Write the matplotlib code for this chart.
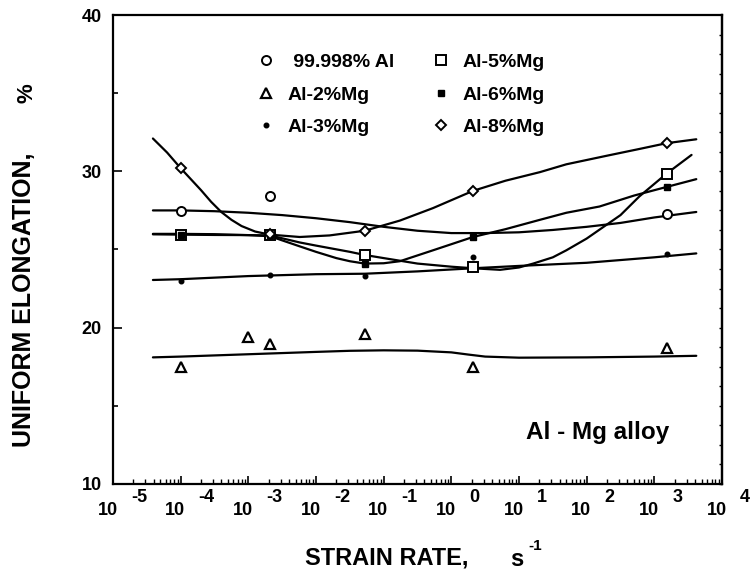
import matplotlib
matplotlib.use("Agg")
import matplotlib.pyplot as plt
import numpy as np
from matplotlib.ticker import FixedLocator, LogLocator, NullFormatter

plt.rcParams['font.family'] = ['Liberation Sans', 'DejaVu Sans']
plt.rcParams['font.weight'] = 'bold'

# measured strain rates (log10 of s^-1)
rate_main = [-4.0, -2.68, -1.28, 0.32, 3.18]
rate_al = [-4.0, -2.68, 3.18]
rate_2mg = [-4.0, -3.0, -2.68, -1.28, 0.32, 3.18]

# measured uniform elongation (%)
elong_al = [27.47, 28.45, 27.27]
elong_2mg = [17.5, 19.42, 18.96, 19.58, 17.5, 18.68]
elong_3mg = [23.0, 23.4, 23.3, 24.5, 24.7]
elong_5mg = [25.93, 25.93, 24.65, 23.86, 29.82]
elong_6mg = [25.9, 25.9, 24.1, 25.8, 29.0]
elong_8mg = [30.2, 26.0, 26.2, 28.75, 31.84]

# hand-drawn trend curves (log10 rate, %)
curve_al_x = [-4.41, -4, -3.5, -3, -2.5, -2, -1.5, -1, -0.5, 0, 0.5, 1, 1.5, 2, 2.5, 3, 3.62]
curve_al_y = [27.5, 27.5, 27.45, 27.35, 27.2, 27.0, 26.75, 26.45, 26.2, 26.05, 26.05, 26.1, 26.25,
              26.45, 26.7, 27.05, 27.4]
curve_2mg_x = [-4.41, -4, -3, -2, -1.5, -1, -0.5, 0, 0.25, 0.5, 1, 2, 3, 3.62]
curve_2mg_y = [18.1, 18.15, 18.3, 18.45, 18.52, 18.55, 18.53, 18.42, 18.28, 18.15, 18.08, 18.1,
               18.15, 18.2]
curve_3mg_x = [-4.41, -4, -3, -2, -1.28, -0.5, 0.32, 1, 2, 3, 3.62]
curve_3mg_y = [23.05, 23.1, 23.3, 23.42, 23.45, 23.6, 23.8, 23.95, 24.15, 24.5, 24.75]
curve_5mg_x = [-4.41, -4, -3.5, -3, -2.68, -2.24, -2, -1.5, -1.28, -1, -0.5, 0, 0.32, 0.72, 1.0,
               1.21, 1.5, 1.7, 2.0, 2.29, 2.5, 2.78, 3.18, 3.55]
curve_5mg_y = [25.97, 25.95, 25.93, 25.92, 25.9, 25.45, 25.25, 24.85, 24.65, 24.45, 24.1, 23.9,
               23.8, 23.7, 23.85, 24.1, 24.5, 24.95, 25.7, 26.57, 27.2, 28.4, 29.85, 31.05]
curve_6mg_x = [-4.41, -4, -3.5, -3, -2.68, -2.24, -2, -1.7, -1.5, -1.28, -1, -0.76, -0.27, 0.32,
               0.8, 1.31, 1.7, 2.19, 2.7, 3.18, 3.62]
curve_6mg_y = [26.0, 26.0, 25.98, 25.92, 25.85, 25.2, 24.85, 24.45, 24.25, 24.1, 24.12, 24.25,
               24.95, 25.8, 26.3, 26.9, 27.35, 27.75, 28.45, 29.0, 29.5]
curve_8mg_x = [-4.41, -4.2, -4, -3.85, -3.7, -3.55, -3.4, -3.25, -3.1, -2.9, -2.68, -2.24, -1.8,
               -1.28, -0.76, -0.27, 0.32, 0.8, 1.31, 1.7, 2.3, 2.8, 3.18, 3.62]
curve_8mg_y = [32.1, 31.2, 30.2, 29.5, 28.8, 28.05, 27.4, 26.9, 26.5, 26.15, 25.95, 25.8, 25.9,
               26.2, 26.85, 27.65, 28.75, 29.4, 29.95, 30.45, 31.0, 31.45, 31.8, 32.05]

decades = list(range(-5, 5))
y_major = [10, 20, 30, 40]
y_minor = [15, 25, 35]


def rate(exps):
    return [10.0 ** e for e in exps]


fig = plt.figure(figsize=(7.52, 5.81), dpi=100)
ax = fig.add_axes([113 / 752, 1 - 484 / 581, 609 / 752, 469 / 581])
ax.set_xscale('log')
ax.set_xlim(1e-5, 1e4)
ax.set_ylim(10, 40)

for cx, cy in [(curve_al_x, curve_al_y), (curve_2mg_x, curve_2mg_y), (curve_3mg_x, curve_3mg_y),
               (curve_5mg_x, curve_5mg_y), (curve_6mg_x, curve_6mg_y), (curve_8mg_x, curve_8mg_y)]:
    ax.plot(rate(cx), cy, color='black', lw=1.6, solid_capstyle='round', zorder=2)

mk = dict(linestyle='none', color='black', zorder=3)
h_al, = ax.plot(rate(rate_al), elong_al, marker='o', ms=6.5, mfc='white', mew=1.4,
                label=' 99.998% Al', **mk)
h_2, = ax.plot(rate(rate_2mg), elong_2mg, marker='^', ms=6.5, mfc='white', mew=1.6,
               label='Al-2%Mg', **mk)
h_3, = ax.plot(rate(rate_main), elong_3mg, marker='o', ms=3.3, label='Al-3%Mg', **mk)
h_5, = ax.plot(rate(rate_main), elong_5mg, marker='s', ms=7, mfc='white', mew=1.4,
               label='Al-5%Mg', **mk)
h_6, = ax.plot(rate(rate_main), elong_6mg, marker='s', ms=3.8, label='Al-6%Mg', **mk)
h_8, = ax.plot(rate(rate_main), elong_8mg, marker='D', ms=5, mfc='white', mew=1.4,
               label='Al-8%Mg', **mk)

leg = ax.legend(handles=[h_al, h_2, h_3, h_5, h_6, h_8], ncol=2, frameon=False,
                loc='upper left', bbox_to_anchor=(0.22, 0.9385), borderpad=0,
                handlelength=1.0, handletextpad=0.6, columnspacing=1.9, labelspacing=0.76,
                prop={'size': 14, 'weight': 'bold'})

for s in ax.spines.values():
    s.set_linewidth(1.6)

ax.yaxis.set_major_locator(FixedLocator(y_major))
ax.yaxis.set_minor_locator(FixedLocator(y_minor))
ax.tick_params(axis='y', which='major', direction='in', length=6.5, width=1.2,
               labelsize=13, pad=8)
ax.tick_params(axis='y', which='minor', direction='in', length=3.6, width=1.2)
ax.tick_params(axis='x', which='major', direction='in', length=6, width=1.2, labelbottom=False)
ax.tick_params(axis='x', which='minor', direction='in', length=3.5, width=1.0)
ax.xaxis.set_major_locator(LogLocator(base=10, numticks=20))
ax.xaxis.set_minor_locator(LogLocator(base=10, subs=np.arange(2, 10), numticks=20))
ax.xaxis.set_minor_formatter(NullFormatter())

sec = ax.secondary_yaxis('right')
sec.set_yticks(np.arange(10, 40, 1.25))
sec.set_yticklabels([])
sec.tick_params(direction='in', length=2.5, width=1.0)
sec.spines['right'].set_linewidth(1.6)

# decade labels written as "10" with a raised, offset exponent
for d in decades:
    ax.annotate('10', xy=(10.0 ** d, 0), xycoords=('data', 'axes fraction'),
                xytext=(-4, -19), textcoords='offset points', ha='center', va='center',
                fontsize=13, fontweight='bold')
    ax.annotate(str(d), xy=(10.0 ** d, 0), xycoords=('data', 'axes fraction'),
                xytext=(13, -9.5), textcoords='offset points', ha='left', va='center',
                fontsize=13, fontweight='bold')

ax.text(598 / 752, 1 - 432 / 581, 'Al - Mg alloy', transform=fig.transFigure,
        ha='center', va='center', fontsize=17.5, fontweight='bold')

fig.text(24 / 752, 1 - 300 / 581, 'UNIFORM ELONGATION,', rotation=90, ha='center',
         va='center', fontsize=18, fontweight='bold')
fig.text(27 / 752, 1 - 93 / 581, '%', rotation=90, ha='center', va='center',
         fontsize=16, fontweight='bold')
fig.text(387 / 752, 1 - 558 / 581, 'STRAIN RATE,', ha='center', va='center',
         fontsize=17, fontweight='bold')
fig.text(510 / 752, 1 - 560 / 581, 's', ha='left', va='center', fontsize=17, fontweight='bold')
fig.text(528 / 752, 1 - 546 / 581, '-1', ha='left', va='center', fontsize=11, fontweight='bold')

fig.savefig('out.png', dpi=100)
